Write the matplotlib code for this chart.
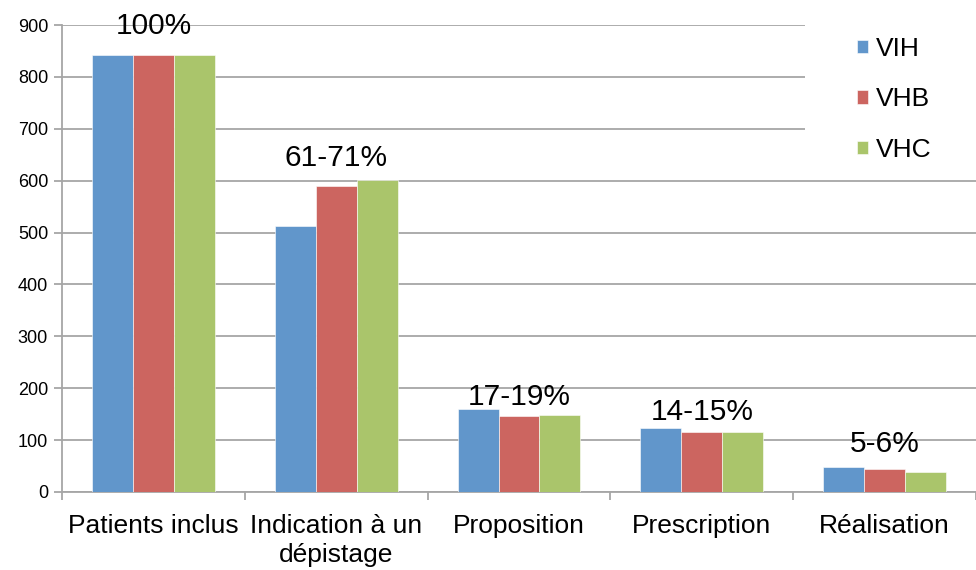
import numpy as np
import matplotlib
matplotlib.use("Agg")
import matplotlib.pyplot as plt
from matplotlib.patches import Rectangle

plt.rcParams['font.family'] = ['Liberation Sans', 'DejaVu Sans']

etapes = ["Patients inclus", "Indication à un\ndépistage", "Proposition",
          "Prescription", "Réalisation"]
vih = [843, 512, 160, 123, 48]
vhb = [843, 590, 146, 116, 44]
vhc = [843, 601, 148, 116, 39]
pourcentages = ["100%", "61-71%", "17-19%", "14-15%", "5-6%"]
series = ["VIH", "VHB", "VHC"]
couleurs = ["#6196CB", "#CC6560", "#AAC56B"]

fig = plt.figure(figsize=(9.76, 5.70), dpi=100)
ax = fig.add_axes([0.0635, 0.137, 0.9365, 0.819])

x = np.arange(len(etapes))
w = 0.224
for i, (vals, nom, c) in enumerate(zip([vih, vhb, vhc], series, couleurs)):
    ax.bar(x + (i - 1) * w, vals, w, color=c, label=nom, zorder=3,
           edgecolor='white', linewidth=0.4)

# etiquettes de pourcentage au-dessus de chaque groupe
decal = [39, 27, 8, 16, 29]
for xi, txt, v1, v2, v3, d in zip(x, pourcentages, vih, vhb, vhc, decal):
    ax.text(xi, max(v1, v2, v3) + d, txt, ha='center', va='baseline',
            fontsize=21.5, zorder=4)

ax.set_xlim(-0.5, len(etapes) - 0.5)
ax.set_ylim(0, 900)
ax.set_yticks(range(0, 901, 100))
ax.yaxis.grid(True, color='#a6a6a6', linewidth=1.3, zorder=0)
ax.set_axisbelow(True)

ax.set_xticks(x)
ax.set_xticklabels(etapes, fontsize=19, linespacing=1.25)
ax.set_xticks(np.arange(-0.5, len(etapes), 1), minor=True)
ax.tick_params(axis='x', which='major', length=0, pad=16)
ax.tick_params(axis='x', which='minor', length=6, width=1.3, color='#a6a6a6')
ax.tick_params(axis='y', length=6, width=1.3, color='#a6a6a6', labelsize=13, pad=4)

for s in ['top', 'right']:
    ax.spines[s].set_visible(False)
for s in ['left', 'bottom']:
    ax.spines[s].set_color('#a6a6a6')
    ax.spines[s].set_linewidth(1.3)

# fond blanc derriere la legende
ax.add_patch(Rectangle((0.813, 0.70), 0.19, 0.32, transform=ax.transAxes,
                       facecolor='white', edgecolor='none', zorder=4,
                       clip_on=False))
leg = ax.legend(loc='upper left', bbox_to_anchor=(0.878, 0.935),
                bbox_transform=fig.transFigure, fontsize=19, frameon=False,
                handlelength=0.42, handleheight=0.42, handletextpad=0.3,
                labelspacing=1.0, borderpad=0, borderaxespad=0)
leg.set_zorder(5)

fig.savefig("out.png", dpi=100)
